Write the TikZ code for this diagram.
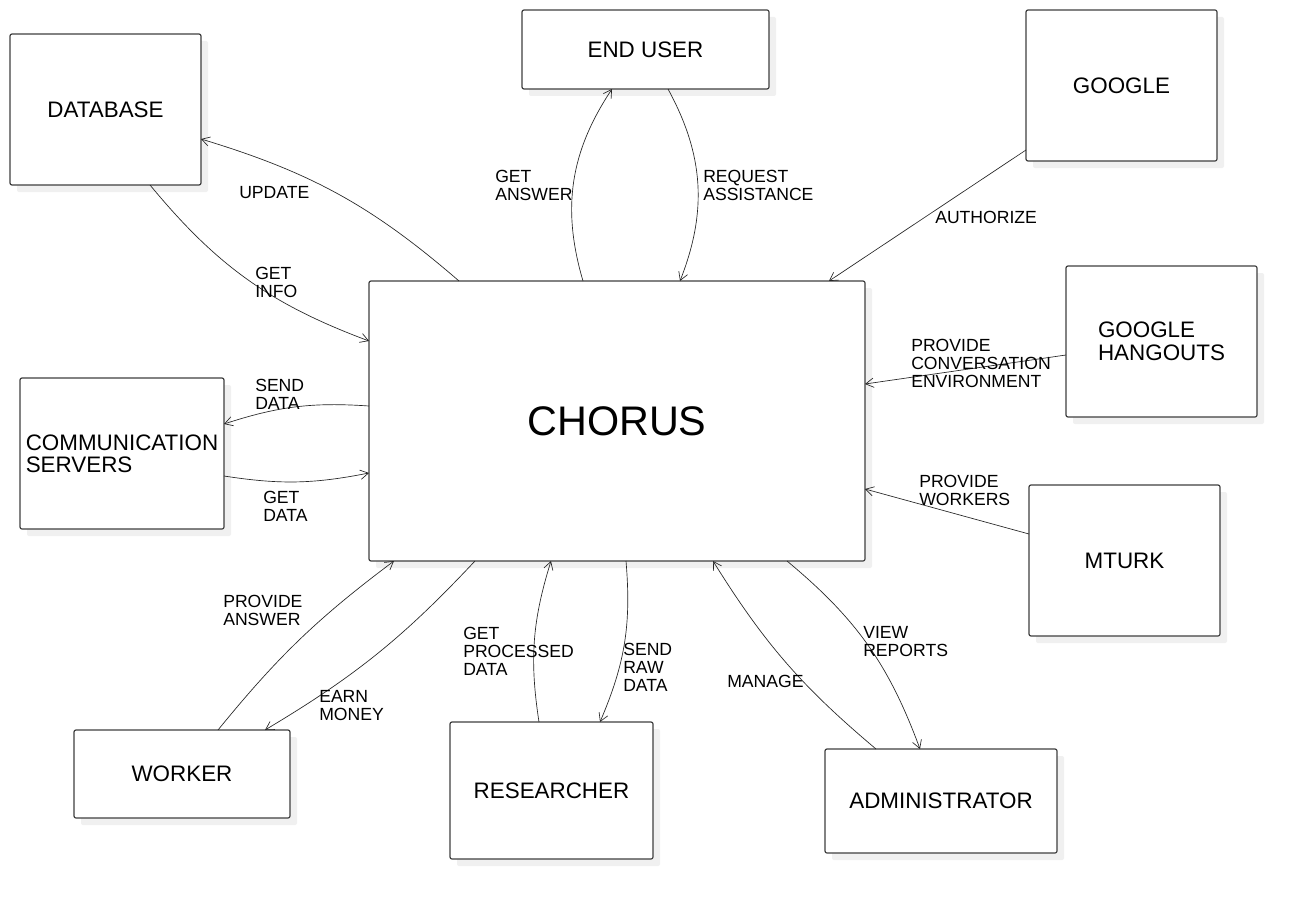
\documentclass[tikz,border=0pt]{standalone}
\usepackage{fontspec}
\setmainfont{Liberation Sans}
\usepackage{tikz}
\usetikzlibrary{arrows.meta,shadows,calc}

\tikzset{
  entity/.style={draw=black!75, line width=0.9pt, fill=white, rounded corners=1.5pt,
    inner sep=0pt, outer sep=0pt, align=center, font=\fontsize{16.8}{17}\selectfont,
    drop shadow={shadow xshift=5.25pt, shadow yshift=-5.25pt, fill=black!6, opacity=1}},
  flow/.style={-{Straight Barb[length=6pt,width=7pt]}, line width=0.5pt, draw=black!85},
  lbl/.style={font=\fontsize{13.2}{13.5}\selectfont, align=left, anchor=west, inner sep=0pt}
}

\begin{document}
\begin{tikzpicture}[x=0.75pt,y=0.75pt]
    % Page area
    \path[use as bounding box, fill=white] (0,0) rectangle (1297,-899);

    % Central system
    \node[entity, minimum width=372pt, minimum height=210pt,
          font=\fontsize{31}{34}\selectfont] (chorus) at (617,-421) {CHORUS};

    % Outer entities
    \node[entity, minimum width=143.25pt, minimum height=113.25pt] (db) at (105.5,-109.5) {DATABASE};
    \node[entity, minimum width=185.25pt, minimum height=59.25pt] (enduser) at (645.5,-49.5) {END USER};
    \node[entity, minimum width=143.25pt, minimum height=113.25pt] (google) at (1121.5,-85.5) {GOOGLE};
    \node[entity, minimum width=143.25pt, minimum height=113.25pt, align=left,
          font=\fontsize{16.8}{17.2}\selectfont] (hangouts) at (1161.5,-341.5) {GOOGLE\\HANGOUTS};
    \node[entity, minimum width=153pt, minimum height=113.25pt, align=left,
          font=\fontsize{16.8}{16.5}\selectfont] (comm) at (122,-453.5) {COMMUNICATION\\SERVERS};
    \node[entity, minimum width=143.25pt, minimum height=113.25pt] (mturk) at (1124.5,-560.5) {MTURK};
    \node[entity, minimum width=162pt, minimum height=66pt] (worker) at (182,-774) {WORKER};
    \node[entity, minimum width=152.25pt, minimum height=102.75pt] (researcher) at (551.5,-790.5) {RESEARCHER};
    \node[entity, minimum width=174pt, minimum height=78pt] (admin) at (941,-801) {ADMINISTRATOR};

    % Database
    \draw[flow] ($(chorus.north west)+(90,0)$) to[bend right=12] ($(db.north east)+(0,-105)$);
    \draw[flow] ($(db.south west)+(140,0)$) to[bend right=15] ($(chorus.north west)+(0,-60)$);
    \node[lbl] (lupdate) at (239,-193) {UPDATE};
    \node[lbl] (linfo) at (255,-282) {GET\\INFO};

    % End user
    \draw[flow] ($(chorus.north west)+(214,0)$) to[bend left=25] ($(enduser.south west)+(90,0)$);
    \draw[flow] ($(enduser.south west)+(146,0)$) to[bend left=25] ($(chorus.north west)+(311,0)$);
    \node[lbl] (lanswer) at (495,-185) {GET\\ANSWER};
    \node[lbl] (lrequest) at (703,-185) {REQUEST\\ASSISTANCE};

    % Google services
    \draw[flow] ($(google.south west)+(0,11)$) -- ($(chorus.north west)+(460,0)$);
    \draw[flow] ($(hangouts.north west)+(0,-89)$) -- ($(chorus.north east)+(0,-103)$);
    \node[lbl] (lauth) at (935,-217) {AUTHORIZE};
    \node[lbl] (lconv) at (911,-363) {PROVIDE\\CONVERSATION\\ENVIRONMENT};

    % Mturk
    \draw[flow] ($(mturk.north west)+(0,-49)$) -- ($(chorus.north east)+(0,-208)$);
    \node[lbl] (lworkers) at (919,-490) {PROVIDE\\WORKERS};

    % Communication servers
    \draw[flow] ($(chorus.north west)+(0,-125)$) to[bend right=11] ($(comm.north east)+(0,-46)$);
    \draw[flow] ($(comm.north east)+(0,-98)$) to[bend right=10] ($(chorus.north west)+(0,-192)$);
    \node[lbl] (lsend) at (255,-394) {SEND\\DATA};
    \node[lbl] (lget) at (263,-506) {GET\\DATA};

    % Worker
    \draw[flow] ($(worker.north west)+(144,0)$) to[bend left=7] ($(chorus.south west)+(25,0)$);
    \draw[flow] ($(chorus.south west)+(106,0)$) to[bend left=8] ($(worker.north west)+(191,0)$);
    \node[lbl] (lprovide) at (223,-610) {PROVIDE\\ANSWER};
    \node[lbl] (learn) at (319,-706) {EARN\\MONEY};

    % Researcher
    \draw[flow] ($(researcher.north west)+(89,0)$) to[bend left=13] ($(chorus.south west)+(182,0)$);
    \draw[flow] ($(chorus.south west)+(257,0)$) to[bend left=14] ($(researcher.north west)+(150,0)$);
    \node[lbl] (lprocessed) at (463,-651) {GET\\PROCESSED\\DATA};
    \node[lbl] (lraw) at (623,-667) {SEND\\RAW\\DATA};

    % Administrator
    \draw[flow] ($(admin.north west)+(51,0)$) to[bend left=9] ($(chorus.south west)+(344,0)$);
    \draw[flow] ($(chorus.south west)+(418,0)$) to[bend left=15] ($(admin.north west)+(95,0)$);
    \node[lbl] (lmanage) at (727,-681) {MANAGE};
    \node[lbl] (lview) at (863,-642) {VIEW\\REPORTS};
\end{tikzpicture}
\end{document}
